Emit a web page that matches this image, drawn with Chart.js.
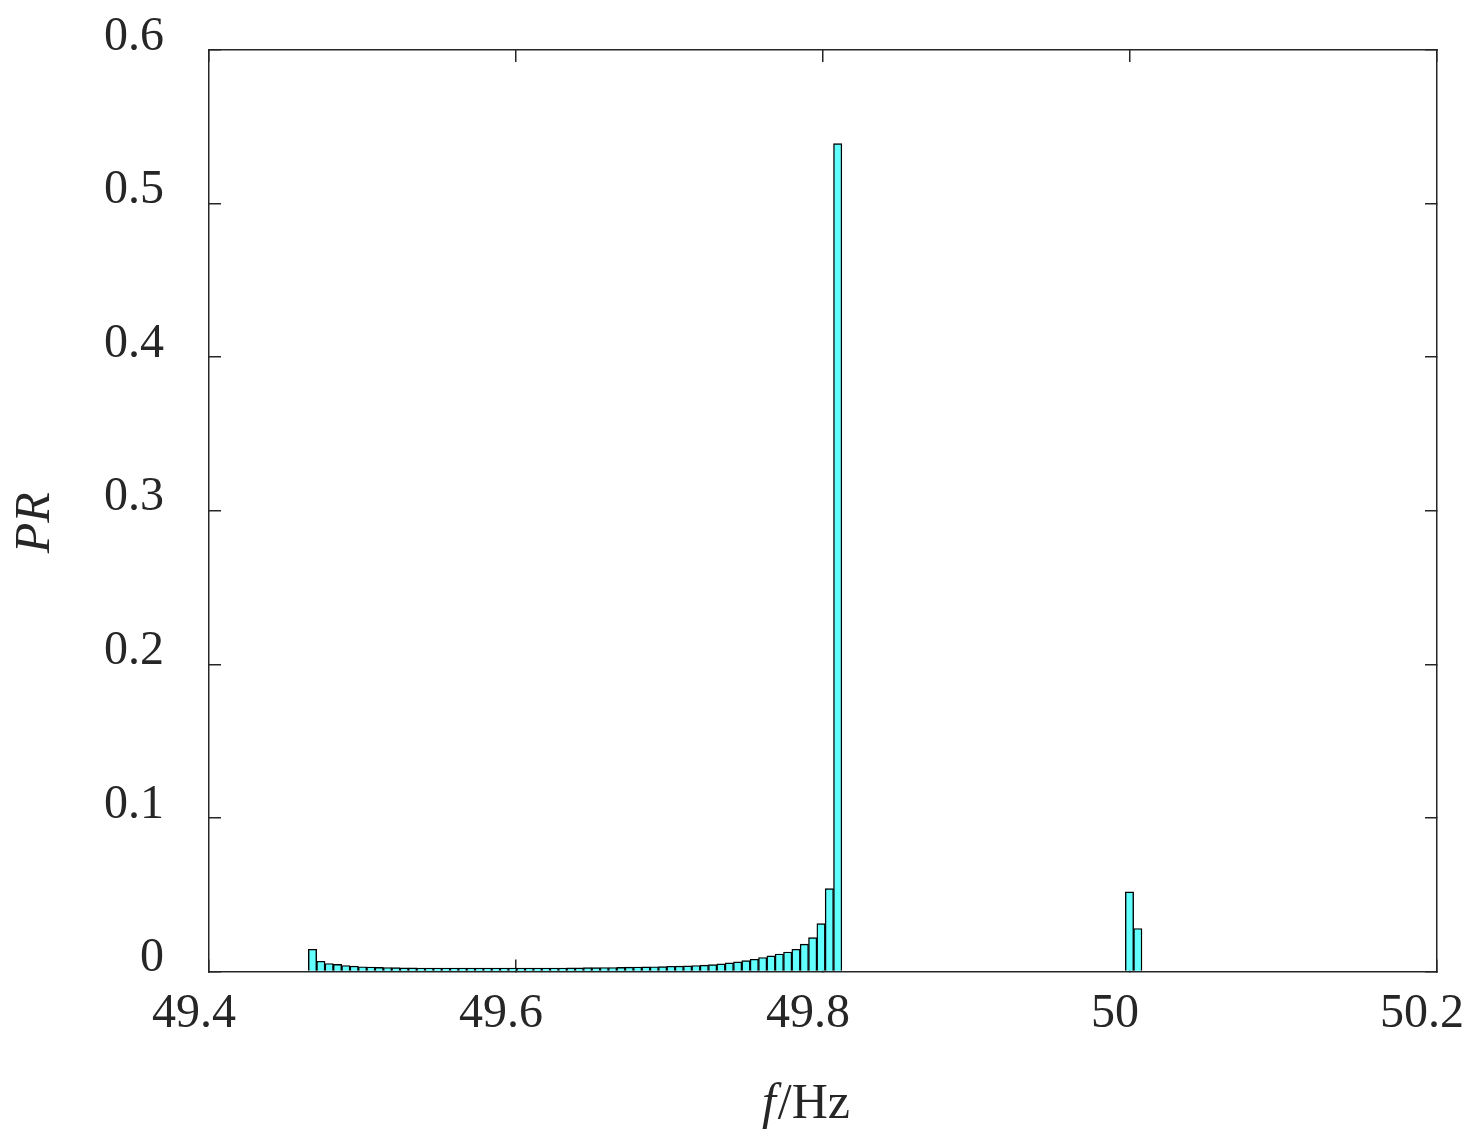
<!DOCTYPE html>
<html>
<head>
<meta charset="utf-8">
<script src="https://cdn.jsdelivr.net/npm/chart.js@4.4.1/dist/chart.umd.min.js"></script>
<style>
  html, body { margin: 0; padding: 0; background: #fff; }
  #wrap { width: 1478px; height: 1144px; }
</style>
</head>
<body>
<div id="wrap"><canvas id="prChart" width="1478" height="1144"></canvas></div>
<script>
// ── Data ──
// histogram bins: 100 bins from 49.4647 Hz, each 0.005431 Hz wide
const BIN_START = 49.4647;
const BIN_WIDTH = 0.005431;

const prValues = [
  0.0145, 0.0067, 0.0052, 0.0046, 0.0039, 0.0035, 0.0031, 0.0029, 0.0027, 0.0026,
  0.0025, 0.0024, 0.0024, 0.0023,
  0.0023, 0.0023, 0.0022, 0.0022, 0.0022, 0.0022, 0.0022, 0.0022, 0.0022, 0.0022,
  0.0022, 0.0022, 0.0023, 0.0023, 0.0023, 0.0023, 0.0023,
  0.0024, 0.0024, 0.0025, 0.0025, 0.0026, 0.0026, 0.0027, 0.0028, 0.0029, 0.0030,
  0.0031, 0.0032, 0.0034, 0.0035, 0.0037, 0.0039,
  0.0041, 0.0045, 0.0050, 0.0056, 0.0063, 0.0071, 0.0080, 0.0091, 0.0102, 0.0114,
  0.0127, 0.0145, 0.0178, 0.0221, 0.0312, 0.0540, 0.5390,
  0, 0, 0, 0, 0, 0, 0, 0, 0, 0, 0, 0, 0, 0, 0, 0, 0,
  0, 0, 0, 0, 0, 0, 0, 0, 0, 0, 0, 0, 0, 0, 0, 0, 0,
  0.0518, 0.0280
];

const xTicks = [49.4, 49.6, 49.8, 50, 50.2];
const yTicks = [0, 0.1, 0.2, 0.3, 0.4, 0.5, 0.6];

const X_TITLE_ITALIC = 'f';
const X_TITLE_REST = '/Hz';
const Y_TITLE = 'PR';

// ── Styles ──
const AXIS_COLOR = '#262626';
const FONT = '"Liberation Serif", "Times New Roman", serif';

const binCenters = prValues.map((_, i) => BIN_START + BIN_WIDTH * (i + 0.5));
const points = prValues.map((v, i) => ({ x: binCenters[i], y: v }));

function setTicks(list) {
  return scale => { scale.ticks = list.map(v => ({ value: v })); };
}

// fixed box size, no extra room for overhanging labels
function fixBox(w, h) {
  return s => {
    if (w !== null) s.width = w;
    if (h !== null) s.height = h;
    s.paddingLeft = s.paddingRight = s.paddingTop = s.paddingBottom = 0;
  };
}

// axis titles: mixed italic/upright, so drawn by hand
const axisTitles = {
  id: 'axisTitles',
  afterDraw(chart) {
    const ctx = chart.ctx;
    const area = chart.chartArea;
    ctx.save();
    ctx.fillStyle = AXIS_COLOR;
    ctx.textBaseline = 'middle';

    // x title
    ctx.font = 'italic 50px ' + FONT;
    const wf = ctx.measureText(X_TITLE_ITALIC).width;
    ctx.font = '50px ' + FONT;
    const wr = ctx.measureText(X_TITLE_REST).width;
    const cx = (area.left + area.right) / 2 - 18;
    const x0 = cx - (wf + wr) / 2;
    ctx.textAlign = 'left';
    ctx.font = 'italic 50px ' + FONT;
    ctx.fillText(X_TITLE_ITALIC, x0, 1105);
    ctx.font = '50px ' + FONT;
    ctx.fillText(X_TITLE_REST, x0 + wf + 2, 1105);

    // y title
    ctx.translate(36, (area.top + area.bottom) / 2 + 12);
    ctx.rotate(-Math.PI / 2);
    ctx.textAlign = 'center';
    ctx.font = 'italic 50px ' + FONT;
    ctx.fillText(Y_TITLE, 0, 0);
    ctx.restore();
  }
};

const frameGrid = {
  drawOnChartArea: false,
  drawTicks: true,
  tickLength: -12,
  color: AXIS_COLOR,
  lineWidth: 1.5
};
const frameBorder = { display: true, color: AXIS_COLOR, width: 1.5 };

new Chart(document.getElementById('prChart'), {
  type: 'bar',
  data: {
    datasets: [{
      data: points,
      backgroundColor: '#62FFFF',
      borderColor: '#000',
      borderWidth: 1.4,
      barPercentage: 1,
      categoryPercentage: 1
    }]
  },
  options: {
    responsive: false,
    animation: false,
    layout: { padding: { top: 50, right: 41, left: 0, bottom: 0 } },
    plugins: { legend: { display: false }, tooltip: { enabled: false } },
    scales: {
      x: {
        type: 'linear', position: 'bottom',
        min: 49.4, max: 50.2, offset: false,
        grid: { ...frameGrid, offset: false },
        border: frameBorder,
        afterBuildTicks: setTicks(xTicks),
        afterFit: fixBox(null, 172.5),
        ticks: {
          color: AXIS_COLOR,
          font: { family: FONT, size: 48 },
          padding: 26,
          labelOffset: -15,
          maxRotation: 0,
          autoSkip: false,
          callback: v => String(v)
        }
      },
      x2: {
        type: 'linear', position: 'top',
        min: 49.4, max: 50.2, offset: false,
        grid: { ...frameGrid, offset: false },
        border: frameBorder,
        afterBuildTicks: setTicks(xTicks),
        afterFit: fixBox(null, 0),
        ticks: { display: false }
      },
      y: {
        type: 'linear', position: 'left',
        min: 0, max: 0.6,
        grid: frameGrid,
        border: frameBorder,
        afterBuildTicks: setTicks(yTicks),
        afterFit: fixBox(209, null),
        ticks: {
          color: AXIS_COLOR,
          font: { family: FONT, size: 48 },
          padding: 57,
          labelOffset: -13,
          callback: v => String(v)
        }
      },
      y2: {
        type: 'linear', position: 'right',
        min: 0, max: 0.6,
        grid: frameGrid,
        border: frameBorder,
        afterBuildTicks: setTicks(yTicks),
        afterFit: fixBox(0, null),
        ticks: { display: false }
      }
    }
  },
  plugins: [axisTitles]
});
</script>
</body>
</html>
